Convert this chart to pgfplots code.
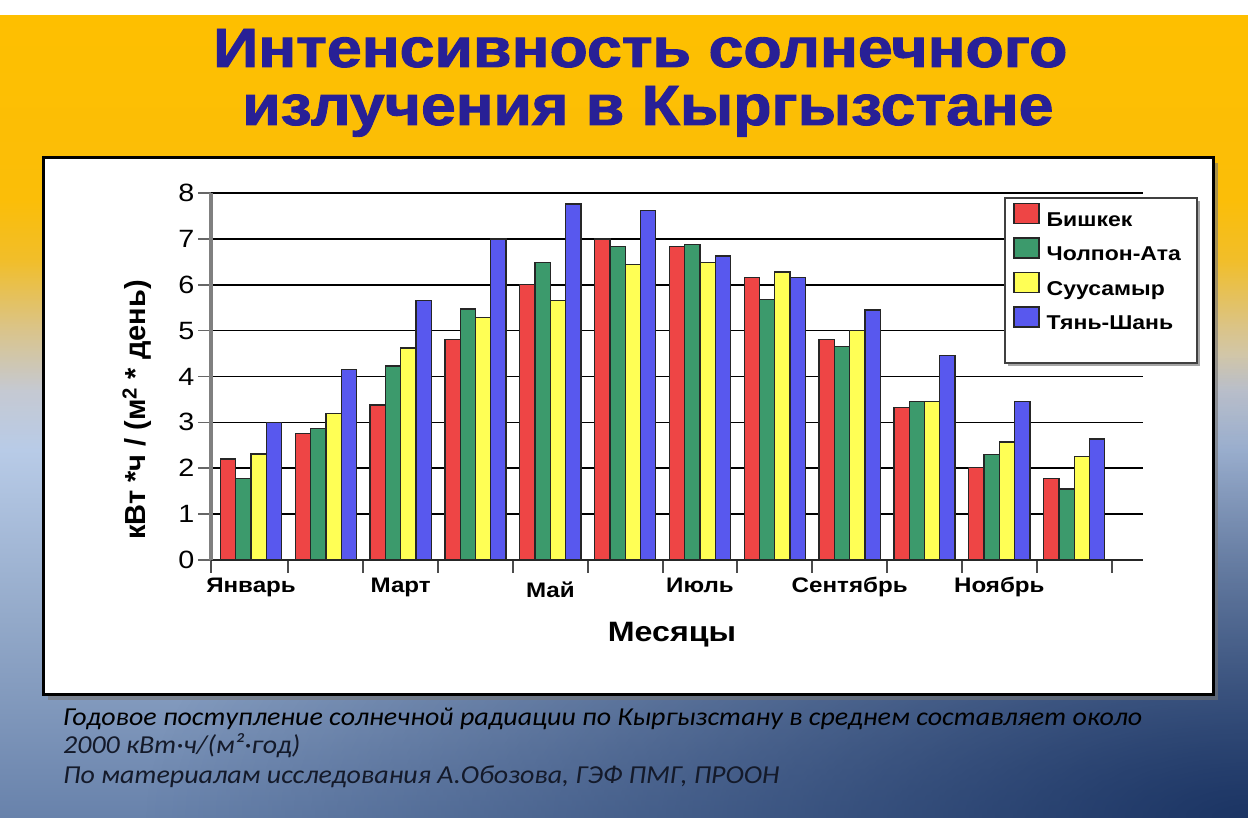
\documentclass[border=0pt]{standalone}
\usepackage{fontspec}
\setmainfont{Liberation Sans}[FakeStretch=1.15]
\newfontfamily\plainsans{Liberation Sans}
\newfontfamily\titlefont{Liberation Sans Bold}[FakeBold=1.6]
\newfontfamily\notefont{Carlito}[FakeStretch=1.08]
\usepackage{graphicx}
\usepackage{pgfplots}
\usepackage{pgfplotstable}
\pgfplotsset{compat=1.18}
\usetikzlibrary{fadings}

\definecolor{cB}{HTML}{EE4545}
\definecolor{cC}{HTML}{3C9A6C}
\definecolor{cS}{HTML}{FFFF55}
\definecolor{cT}{HTML}{5858EE}
\definecolor{titleC}{RGB}{40,32,150}
\definecolor{noteC}{HTML}{141A2A}
\definecolor{bg0}{HTML}{6882AB}
\definecolor{bg1}{HTML}{93A9C9}
\definecolor{bg2}{HTML}{B8CBE7}
\definecolor{bg3}{HTML}{C5C9D2}
\definecolor{bg4}{HTML}{DAC48A}
\definecolor{bg5}{HTML}{F1BE2A}
\definecolor{bg6}{HTML}{FBBE08}
\definecolor{bg7}{HTML}{FEBF00}
\definecolor{navyD}{HTML}{132C5C}

\pgfdeclareverticalshading{bgsh}{100bp}{color(0bp)=(bg0); color(25bp)=(bg0); color(37.3bp)=(bg1); color(47.9bp)=(bg2); color(51.6bp)=(bg3); color(55.4bp)=(bg4); color(59.7bp)=(bg5); color(63.5bp)=(bg6); color(75bp)=(bg7); color(100bp)=(bg7)}
\tikzfading[name=radfade, inner color=transparent!0, outer color=transparent!100]

\pgfplotstableread{
m  B    C    S    T
0  2.20 1.77 2.31 3.00
1  2.75 2.87 3.19 4.15
2  3.38 4.23 4.62 5.66
3  4.81 5.47 5.28 7.00
4  6.00 6.49 5.65 7.76
5  7.00 6.84 6.44 7.62
6  6.84 6.88 6.48 6.63
7  6.16 5.68 6.28 6.16
8  4.80 4.66 5.00 5.45
9  3.33 3.45 3.45 4.46
10 2.02 2.30 2.57 3.45
11 1.77 1.55 2.26 2.64
}\data

\newsavebox\fnbox
\newlength\fnlen

\begin{document}%
\sbox\fnbox{\notefont\itshape\fontsize{24}{24}\selectfont Годовое поступление солнечной радиации по Кыргызстану в среднем составляет около}%
\setlength\fnlen{\wd\fnbox}%
\pgfmathsetmacro\fnscale{1079pt/\fnlen}%
\begin{tikzpicture}[x=1pt,y=1pt]
\useasboundingbox (0,0) rectangle (1248,817);
% background
\shade[shading=bgsh] (0,0) rectangle (1248,802);
\begin{scope}
\clip (0,0) rectangle (1248,802);
\fill[navyD, path fading=radfade, fill opacity=0.9] (1248,0) ellipse [x radius=1100, y radius=460];
\end{scope}
\fill[white] (0,802) rectangle (1248,817);
% title
\node[anchor=base west, inner sep=0pt, text=titleC] at (213,750) {\resizebox{854pt}{38pt}{\titlefont Интенсивность солнечного}};
\node[anchor=base west, inner sep=0pt, text=titleC] at (242,692) {\resizebox{811pt}{39pt}{\titlefont излучения в Кыргызстане}};
% panel
\fill[black!55, opacity=0.6] (48,117) rectangle (1218,654);
\draw[fill=white, draw=black, line width=3pt] (43,122) rectangle (1213,659);

\begin{axis}[
  at={(211pt,257pt)}, anchor=south west, scale only axis,
  width=932pt, height=367pt,
  xmin=-0.535, xmax=11.92, ymin=0, ymax=8,
  clip=false,
  ybar=0pt, bar width=15.3pt,
  separate axis lines,
  axis x line*=bottom, axis y line*=left,
  axis line style={-},
  x axis line style={black!85, line width=2pt, -},
  y axis line style={black!50, line width=3.5pt, -},
  ytick={0,1,...,8},
  ymajorgrids, major grid style={black, line width=1.6pt},
  xtick={-0.535,0.5,1.5,2.5,3.5,4.5,5.5,6.5,7.5,8.5,9.5,10.5,11.5},
  xticklabels={},
  major tick length=13pt, tick align=outside,
  x tick style={black!70, line width=2pt},
  y tick style={black!60, line width=1.6pt},
  /pgf/number format/assume math mode=true,
  yticklabel style={font=\fontsize{25}{25}\selectfont},
  extra x ticks={0,2,4,6,8,10},
  extra x tick labels={Январь,Март,\raisebox{-5pt}{Май},Июль,Сентябрь,Ноябрь},
  extra x tick style={major tick length=0pt,
    tick label style={font=\bfseries\fontsize{21}{21}\selectfont, anchor=base, yshift=-33pt}},
  xlabel={Месяцы},
  every axis x label/.style={at={(axis description cs:0.4946,-0.2234)}, anchor=base, font=\bfseries\fontsize{28}{28}\selectfont},
  ylabel={кВт *ч / (м\textsuperscript{2} * день)},
  every axis y label/.style={at={(axis description cs:-0.0794,0.4087)}, rotate=90, anchor=center, font=\plainsans\bfseries\fontsize{29}{29}\selectfont},
  legend style={at={(axis description cs:0.8573,0.9793)}, anchor=north west, draw=none, fill=none,
    font=\bfseries\fontsize{20}{20}\selectfont, row sep=7.5pt,
    /tikz/every odd column/.append style={column sep=5pt}},
  legend cell align=left,
  legend image code/.code={\draw[#1, line width=1.5pt] (0pt,-3.5pt) rectangle (25pt,16.5pt);},
]
\addplot[fill=cB, draw=black!85, line width=1.3pt] table[x=m,y=B]{\data};
\addplot[fill=cC, draw=black!85, line width=1.3pt] table[x=m,y=C]{\data};
\addplot[fill=cS, draw=black!85, line width=1.3pt] table[x=m,y=S]{\data};
\addplot[fill=cT, draw=black!85, line width=1.3pt] table[x=m,y=T]{\data};
\fill[black!35] ([xshift=3pt,yshift=-3pt]rel axis cs:0.8519,0.9864) rectangle ([xshift=3pt,yshift=-3pt]rel axis cs:1.0579,0.5368);
\draw[fill=white, draw=black!75, line width=1.5pt] (rel axis cs:0.8519,0.9864) rectangle (rel axis cs:1.0579,0.5368);
\legend{Бишкек,Чолпон-Ата,Суусамыр,Тянь-Шань}
\end{axis}

% footnote
\node[anchor=base west, inner sep=0pt, text=noteC] at (63,92) {\scalebox{\fnscale}{\usebox\fnbox}};
\node[anchor=base west, inner sep=0pt, text=noteC] at (63,64) {\scalebox{\fnscale}{\notefont\itshape\fontsize{24}{24}\selectfont 2000 кВт·ч/(м²·год)}};
\node[anchor=base west, inner sep=0pt, text=noteC] at (63,34) {\scalebox{\fnscale}{\notefont\itshape\fontsize{24}{24}\selectfont По материалам исследования А.Обозова, ГЭФ ПМГ, ПРООН}};
\end{tikzpicture}%
\end{document}
